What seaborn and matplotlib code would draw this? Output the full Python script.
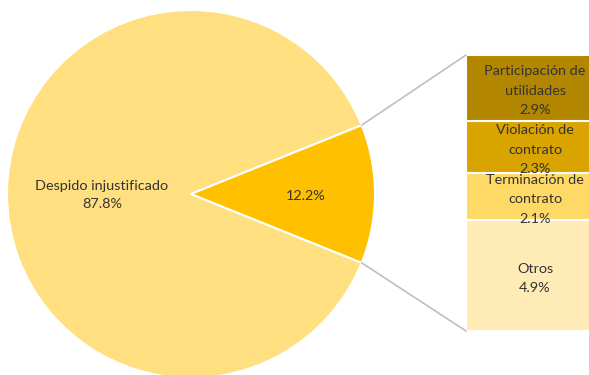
import numpy as np
import matplotlib
matplotlib.use("Agg")
import matplotlib.pyplot as plt
from matplotlib.patches import ConnectionPatch
import seaborn as sns

# ---- data ----
pie_labels = ["Despido injustificado", ""]
pie_values = [87.8, 12.2]
pie_colors = ["#FFDF80", "#FFC000"]

bar_labels = ["Otros", "Terminación de\ncontrato", "Violación de\ncontrato", "Participación de\nutilidades"]
bar_values = [4.9, 2.1, 2.3, 2.9]
bar_colors = ["#FFEBB5", "#FFD966", "#D9A300", "#B38600"]

sns.set_style("white")
plt.rcParams["font.family"] = ["Lato", "DejaVu Sans"]
txt_color = "#333333"
fs = 10.4

W, H = 589, 375
fig = plt.figure(figsize=(W / 100, H / 100), dpi=100)
ax = fig.add_axes([0, 0, 1, 1])

cx, cy, r = 191, H - 194, 184
half = pie_values[1] / sum(pie_values) * 360 / 2
ax.pie(pie_values, colors=pie_colors, startangle=half, center=(cx, cy), radius=r,
       wedgeprops=dict(edgecolor="white", linewidth=1.5), frame=True)
ax.set_xlim(0, W)
ax.set_ylim(0, H)
ax.set_aspect("equal")
ax.axis("off")

ax.text(cx - 89, cy - 1, f"{pie_labels[0]}\n{pie_values[0]}%", ha="center", va="center",
        fontsize=fs, color=txt_color, linespacing=1.7)
ax.text(cx + 115, cy - 2, f"{pie_values[1]}%", ha="center", va="center",
        fontsize=fs, color=txt_color)

# ---- bar ----
bx0, bx1, by0, by1 = 466, 604, 55, 331
bax = fig.add_axes([bx0 / W, (H - by1) / H, (bx1 - bx0) / W, (by1 - by0) / H])
total = sum(bar_values)
bottoms = np.concatenate([[0], np.cumsum(bar_values)[:-1]])
bax.bar([0] * len(bar_values), bar_values, bottom=bottoms, width=1.0, color=bar_colors,
        edgecolor="white", linewidth=1.5)
bax.set_xlim(-0.5, 0.5)
bax.set_ylim(0, total)
bax.axis("off")
for lab, v, b in zip(bar_labels, bar_values, bottoms):
    bax.annotate(f"{lab}\n{v}%", xy=(0, b + v / 2), xytext=(0, -3), textcoords="offset pixels",
                 ha="center", va="center", fontsize=fs, color=txt_color, linespacing=1.75)

# ---- connector lines ----
for sign, yb in [(1, total), (-1, 0)]:
    a = np.deg2rad(sign * half)
    p = (cx + r * np.cos(a), cy + r * np.sin(a))
    con = ConnectionPatch(xyA=p, coordsA=ax.transData, xyB=(-0.5, yb), coordsB=bax.transData,
                          color="#BFBFBF", linewidth=1.2)
    fig.add_artist(con)

fig.savefig("out.png", dpi=100)
